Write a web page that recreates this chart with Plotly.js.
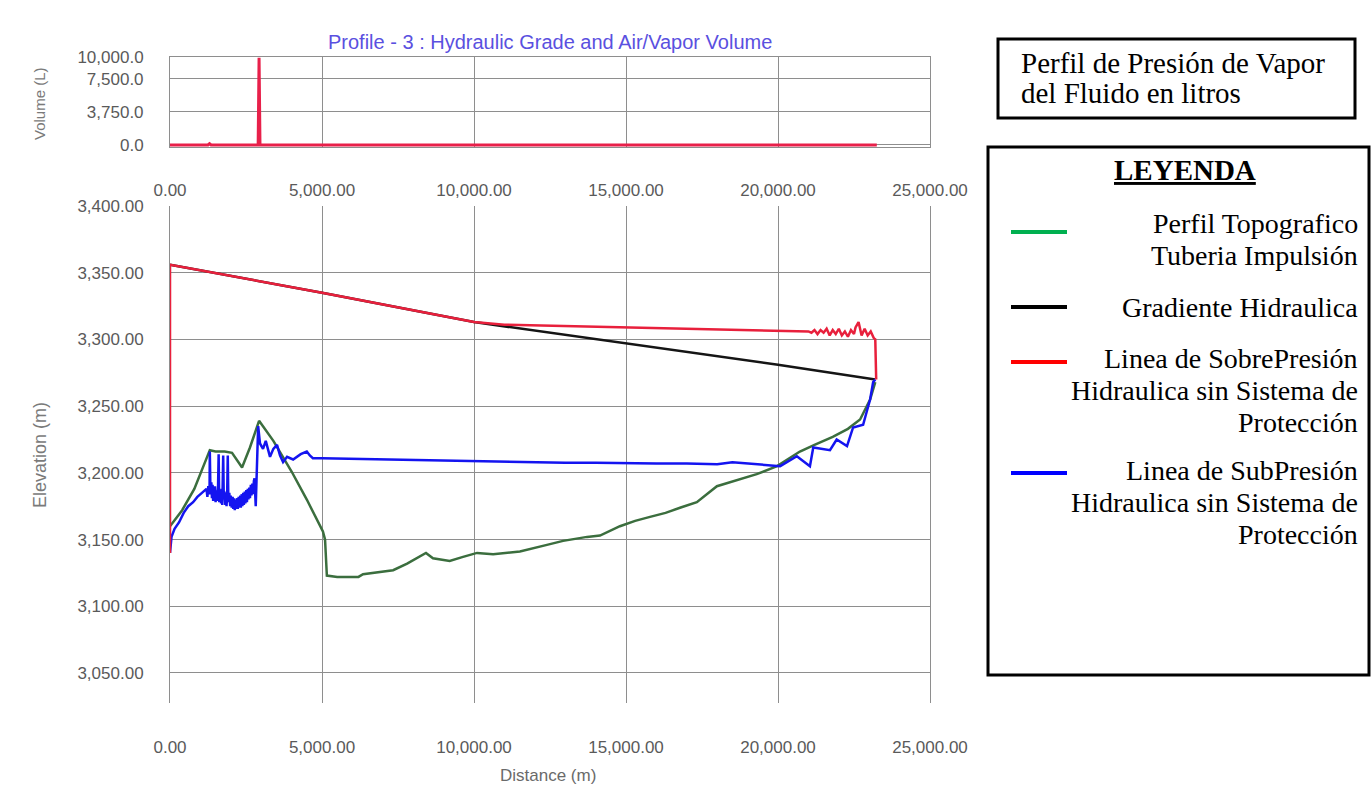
<!DOCTYPE html>
<html>
<head>
<meta charset="utf-8">
<script src="https://cdn.plot.ly/plotly-3.0.1.min.js"></script>
<style>html,body{margin:0;padding:0;background:#fff;}#chart{width:1372px;height:792px;}</style>
</head>
<body>
<div id="chart"></div>
<script>
// ---------- DATA ----------
const distTicks = [0, 5000, 10000, 15000, 20000, 25000];
const volTicks = [0, 3750, 7500, 10000];

// Air/Vapor volume (L)
const volDist = [0, 1250, 1300, 1350, 2900, 2930, 2960, 23250];
const volL    = [0, 0, 150, 0, 0, 9900, 0, 0];

// Topographic profile (green)
const topoDist = [0, 400, 800, 1310, 1500, 1800, 2040, 2370, 2630, 2930, 3400, 4000, 4500, 5030, 5100, 5160, 5500, 6200, 6350, 7340, 7800, 8220, 8420, 8650, 9200, 9640, 10100, 10630, 11510, 12400, 12930, 13720, 14145, 14800, 15300, 15790, 16300, 16800, 17330, 17990, 18750, 19300, 19970, 20720, 21200, 21800, 22300, 22700, 23030, 23200];
const topoElev = [3160, 3172, 3188, 3217, 3216, 3216, 3215, 3204, 3219, 3239, 3224, 3201, 3180, 3156, 3150, 3123, 3122, 3122, 3124, 3127, 3132, 3137, 3140, 3136, 3134, 3137, 3140, 3139, 3141, 3146, 3149, 3152, 3153, 3160, 3164, 3167, 3170, 3174, 3178, 3190, 3195, 3199, 3205, 3216, 3221, 3227, 3233, 3240, 3255, 3268];

// Hydraulic grade (black)
const hglDist = [0, 5000, 10000, 15000, 20000, 23200];
const hglElev = [3356, 3335, 3313, 3297, 3281, 3270];

// Max transient head (red)
const maxDist = [0, 0, 5000, 10000, 11000, 12000, 13000, 14000, 15000, 16000, 17000, 18000, 19000, 20000, 21000, 21100, 21200, 21300, 21400, 21500, 21600, 21700, 21800, 21900, 22000, 22100, 22200, 22300, 22400, 22500, 22550, 22650, 22750, 22850, 22950, 23050, 23150, 23200, 23230];
const maxElev = [3140, 3356, 3335, 3313, 3311, 3310.5, 3310, 3309.5, 3309, 3308.5, 3308, 3307.5, 3307, 3306.5, 3306, 3305, 3307, 3304, 3307, 3305, 3308, 3303, 3307, 3304, 3308, 3303, 3306, 3302, 3307, 3304, 3309, 3313, 3303, 3308, 3303, 3306, 3301, 3300, 3270];

// Min transient head (blue)
const minDist = [0, 50, 150, 300, 450, 600, 760, 900, 1050, 1200, 1230, 1260, 1300, 1310, 1330, 1360, 1380, 1400, 1420, 1440, 1460, 1480, 1500, 1520, 1550, 1580, 1600, 1620, 1650, 1680, 1700, 1720, 1750, 1770, 1790, 1820, 1840, 1860, 1880, 1900, 1920, 1950, 1980, 2000, 2030, 2060, 2080, 2110, 2130, 2160, 2180, 2210, 2230, 2260, 2280, 2310, 2330, 2360, 2380, 2410, 2430, 2460, 2480, 2510, 2530, 2560, 2580, 2610, 2630, 2660, 2680, 2710, 2730, 2760, 2780, 2820, 2850, 2900, 2960, 3060, 3150, 3290, 3400, 3520, 3620, 3720, 3850, 4050, 4300, 4500, 4600, 4700, 5000, 6000, 7000, 8000, 9000, 10000, 11000, 12000, 13000, 14000, 15000, 16000, 17000, 18000, 18500, 19000, 20070, 20620, 21050, 21160, 21710, 21930, 22270, 22470, 22800, 22920, 23030, 23130, 23200];
const minElev = [3140, 3152, 3158, 3163, 3170, 3175, 3178, 3182, 3185, 3188, 3182, 3190, 3184, 3216, 3186, 3193, 3181, 3191, 3179, 3189, 3180, 3190, 3178, 3187, 3179, 3189, 3214, 3178, 3187, 3177, 3188, 3176, 3213, 3180, 3186, 3176, 3185, 3175, 3184, 3213, 3178, 3185, 3175, 3183, 3174, 3182, 3173, 3181, 3172, 3180, 3173, 3181, 3173, 3182, 3174, 3183, 3174, 3184, 3175, 3185, 3176, 3186, 3177, 3187, 3178, 3188, 3180, 3189, 3181, 3191, 3183, 3192, 3184, 3194, 3196, 3175, 3200, 3235, 3222, 3218, 3224, 3212, 3218, 3221, 3213, 3208, 3212, 3210, 3214, 3216, 3213, 3211, 3211, 3210.5, 3210, 3209.5, 3209, 3208.5, 3208, 3208, 3207.5, 3207.5, 3207, 3207, 3207, 3206.5, 3208, 3207, 3205, 3212.5, 3205, 3219, 3217, 3225, 3220, 3234, 3236, 3246, 3255, 3268, 3270];

// Legend entries (custom legend box)
const legendLabels = [
  ["Perfil Topografico", "Tuberia Impulsión"],
  ["Gradiente Hidraulica"],
  ["Linea de SobrePresión", "Hidraulica sin Sistema de", "Protección"],
  ["Linea de SubPresión", "Hidraulica sin Sistema de", "Protección"]
];
const legendColors = ["#00b050", "#000000", "#ff0000", "#0000ff"];

// ---------- LAYOUT HELPERS ----------
const W = 1372, H = 792;
const px = x => x / W;
const py = y => 1 - y / H;

const sansFam = "'Liberation Sans', Arial, sans-serif";
const axFont = {family: sansFam, size: 17, color: "#5a5a5a"};
const serif = "'Liberation Serif', 'Times New Roman', serif";
const gridC = "#8e8e8e";

const traces = [
  {x: volDist, y: volL, xaxis: "x2", yaxis: "y2", mode: "lines", line: {color: "#e8204a", width: 3}, hoverinfo: "skip", showlegend: false},
  {x: topoDist, y: topoElev, mode: "lines", line: {color: "#3b6e3e", width: 2.5}, name: "Perfil Topografico", showlegend: false},
  {x: hglDist, y: hglElev, mode: "lines", line: {color: "#151515", width: 2.5}, name: "Gradiente Hidraulica", showlegend: false},
  {x: minDist, y: minElev, mode: "lines", line: {color: "#1414f0", width: 2.5}, name: "SubPresión", showlegend: false},
  {x: maxDist, y: maxElev, mode: "lines", line: {color: "#e8203c", width: 2.5}, name: "SobrePresión", showlegend: false}
];

const annotations = [
  {text: "Profile - 3 : Hydraulic Grade and Air/Vapor Volume", x: px(550), y: py(42), xref: "paper", yref: "paper", showarrow: false, xanchor: "center", yanchor: "middle", font: {family: sansFam, size: 20, color: "#5a50e0"}},
  {text: "Volume (L)", x: px(40), y: py(104), xref: "paper", yref: "paper", showarrow: false, textangle: -90, xanchor: "center", yanchor: "middle", font: {family: sansFam, size: 15, color: "#7a7a7a"}},
  {text: "Elevation (m)", x: px(40), y: py(455), xref: "paper", yref: "paper", showarrow: false, textangle: -90, xanchor: "center", yanchor: "middle", font: {family: sansFam, size: 18, color: "#7a7a7a"}},
  {text: "Distance (m)", x: px(548), y: py(775), xref: "paper", yref: "paper", showarrow: false, xanchor: "center", yanchor: "middle", font: {family: sansFam, size: 17, color: "#6a6a6a"}},
  {text: "Perfil de Presión de Vapor", x: px(1019), y: py(63), xref: "paper", yref: "paper", showarrow: false, xanchor: "left", yanchor: "middle", font: {family: serif, size: 29, color: "#000"}},
  {text: "del Fluido en litros", x: px(1019), y: py(93), xref: "paper", yref: "paper", showarrow: false, xanchor: "left", yanchor: "middle", font: {family: serif, size: 29, color: "#000"}},
  {text: "<b><u>LEYENDA</u></b>", x: px(1185), y: py(170), xref: "paper", yref: "paper", showarrow: false, xanchor: "center", yanchor: "middle", font: {family: serif, size: 29, color: "#000"}}
];

const shapes = [
  {type: "rect", xref: "paper", yref: "paper", x0: px(998), x1: px(1355), y0: py(39), y1: py(118), line: {color: "#000", width: 3}},
  {type: "rect", xref: "paper", yref: "paper", x0: px(988), x1: px(1369), y0: py(147), y1: py(675), line: {color: "#000", width: 3}}
];

const sampleY = [232, 307, 362, 473];
const firstLineY = [223, 307, 358, 470];
legendLabels.forEach((lines, i) => {
  shapes.push({type: "line", xref: "paper", yref: "paper", x0: px(1011), x1: px(1067), y0: py(sampleY[i]), y1: py(sampleY[i]), line: {color: legendColors[i], width: 4}});
  lines.forEach((t, j) => {
    annotations.push({text: t, x: px(1360), y: py(firstLineY[i] + j * 32), xref: "paper", yref: "paper", showarrow: false, xanchor: "right", yanchor: "middle", font: {family: serif, size: 28, color: "#000"}});
  });
});

const layout = {
  width: W, height: H,
  margin: {l: 0, r: 0, t: 0, b: 0},
  paper_bgcolor: "#fff", plot_bgcolor: "#fff",
  showlegend: false,
  xaxis: {domain: [px(170), px(930)], range: [0, 25000], tickvals: distTicks, tickformat: ",.2f", showgrid: true, gridcolor: gridC, gridwidth: 1, zeroline: false, showline: false, ticks: "", ticklabelstandoff: 32, tickfont: axFont, anchor: "y", fixedrange: true},
  yaxis: {domain: [py(703), py(206)], range: [3027.5, 3400], dtick: 50, tick0: 3000, tickformat: ",.2f", showgrid: true, gridcolor: gridC, zeroline: false, showline: true, mirror: true, linecolor: gridC, linewidth: 1, ticks: "", ticklabelstandoff: 22, tickfont: axFont, anchor: "x", fixedrange: true},
  xaxis2: {domain: [px(170), px(930)], range: [0, 25000], tickvals: distTicks, tickformat: ",.2f", showgrid: true, gridcolor: gridC, zeroline: false, showline: true, mirror: true, linecolor: gridC, ticks: "", ticklabelstandoff: 28, tickfont: axFont, anchor: "y2", fixedrange: true},
  yaxis2: {domain: [py(147), py(57)], range: [-230, 10000], tickvals: volTicks, tickformat: ",.1f", showgrid: true, gridcolor: gridC, zeroline: false, showline: true, mirror: true, linecolor: gridC, ticks: "", ticklabelstandoff: 22, tickfont: axFont, anchor: "x2", fixedrange: true},
  annotations: annotations,
  shapes: shapes
};

Plotly.newPlot("chart", traces, layout, {displayModeBar: false, staticPlot: true});
</script>
</body>
</html>
